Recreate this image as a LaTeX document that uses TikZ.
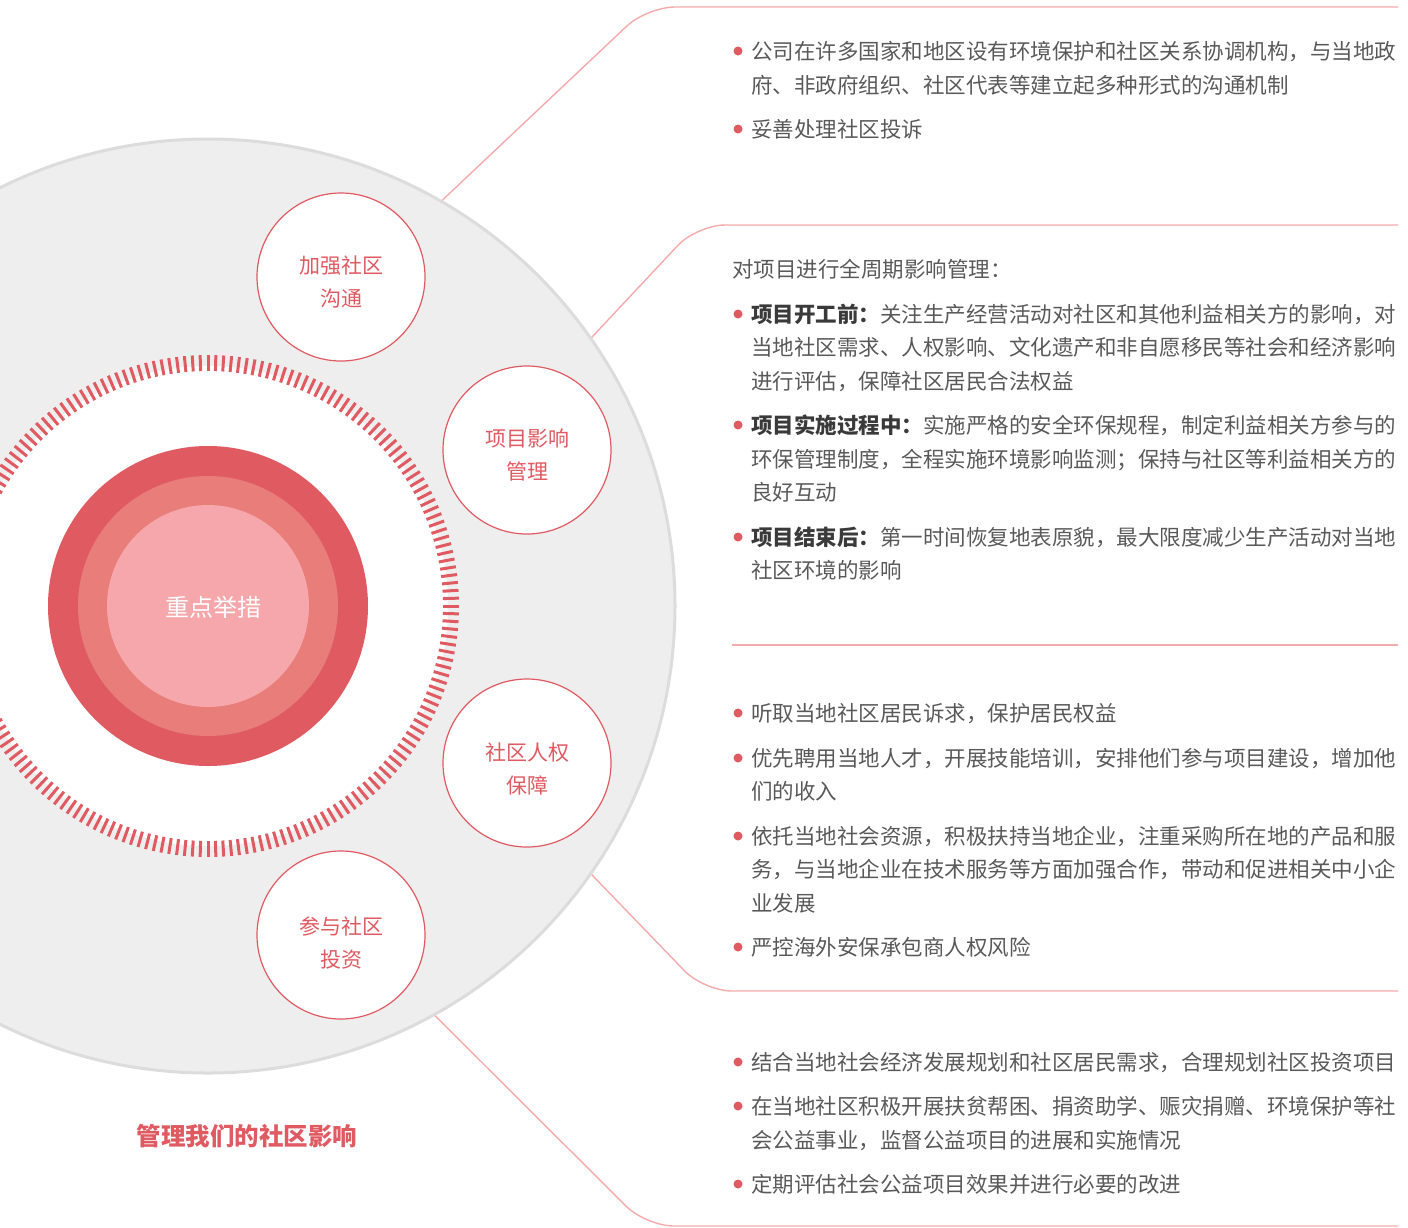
\documentclass[tikz,border=0pt]{standalone}
\usepackage{fontspec}
\setmainfont{Noto Sans CJK SC}
\definecolor{redA}{HTML}{E05A62}
\definecolor{redB}{HTML}{E87D7A}
\definecolor{redC}{HTML}{F5A7AB}
\definecolor{lineP}{HTML}{F5ABAB}
\definecolor{greyF}{HTML}{EEEEEE}
\definecolor{greyB}{HTML}{DCDCDC}
\definecolor{txtG}{HTML}{595959}
\definecolor{txtD}{HTML}{3A3A3A}
\newcommand{\hd}[1]{{\bfseries\color{txtD}#1}}
\begin{document}
\begin{tikzpicture}[x=1pt,y=-1pt,
  tline/.style={anchor=base west, inner sep=0pt, text=txtG, font=\fontsize{21.5}{21.5}\selectfont},
  dot/.style={circle, fill=redA, inner sep=0pt, minimum size=9pt},
  conn/.style={draw=lineP, line width=1.4pt, rounded corners=28pt},
  sat/.style={circle, draw=redA, line width=1.2pt, fill=white, minimum size=168pt, inner sep=0pt},
  sattxt/.style={align=center, text=redA, inner sep=0pt, font=\fontsize{21}{33}\selectfont},
  tick/.style={draw=redA, line width=3pt}]
\useasboundingbox (0,0) rectangle (1408,1227);
\clip (0,0) rectangle (1408,1227);

% background disc
\node[circle, fill=greyF, draw=greyB, line width=3pt, minimum size=934pt, inner sep=0pt] (bg) at (208,606) {};
\coordinate (ctr) at (208,606);
\fill[white] (ctr) circle[radius=240];
\foreach \a in {0,1.8,...,358.3}
  \draw[tick] (ctr) ++(\a:235) -- ++(\a:16);

% core
\node[circle, fill=redA, minimum size=320pt, inner sep=0pt] (core) at (ctr) {};
\node[circle, fill=redB, minimum size=260pt, inner sep=0pt] (mid) at (ctr) {};
\node[circle, fill=redC, minimum size=202pt, inner sep=0pt] (inner) at (ctr) {};
\node[text=white, font=\fontsize{24}{24}\selectfont] (coretxt) at (213,607) {重点举措};

% connectors
\coordinate (k1) at (647,7);    \coordinate (e1) at (1398,7);
\coordinate (k2) at (697,225);  \coordinate (e2) at (1398,225);
\coordinate (s3) at (732,645);  \coordinate (e3) at (1398,645);
\coordinate (k4) at (704,991);  \coordinate (e4) at (1398,991);
\coordinate (k5) at (646,1226); \coordinate (e5) at (1398,1226);
\draw[conn] (bg.60) -- (k1) -- (e1);
\draw[conn] (bg.35) -- (k2) -- (e2);
\draw[conn] (s3) -- (e3);
\draw[conn] (bg.-35) -- (k4) -- (e4);
\draw[conn] (bg.-61) -- (k5) -- (e5);

% satellites
\node[sat] (s1) at (341,277) {};
\node[sat] (s2) at (527,450) {};
\node[sat] (s4) at (527,763) {};
\node[sat] (s5) at (341,935) {};
\node[sattxt] (s1t) at (341,282) {加强社区\\沟通};
\node[sattxt] (s2t) at (527,455) {项目影响\\管理};
\node[sattxt] (s4t) at (527,769) {社区人权\\保障};
\node[sattxt] (s5t) at (341,943) {参与社区\\投资};

% title
\node[text=redA, font=\fontsize{24.5}{24.5}\selectfont\bfseries] (title) at (247,1136) {管理我们的社区影响};

% box 1
\node[dot] (d1a) at (738,51) {};
\node[tline] (t1a) at (751,59) {公司在许多国家和地区设有环境保护和社区关系协调机构，与当地政};
\node[tline] (t1b) at (751,93) {府、非政府组织、社区代表等建立起多种形式的沟通机制};
\node[dot] (d1c) at (738,129) {};
\node[tline] (t1c) at (751,137) {妥善处理社区投诉};

% box 2
\node[tline] (t2h) at (732,277) {对项目进行全周期影响管理：};
\node[dot] (d2a) at (738,314) {};
\node[tline] (t2a) at (751,322) {\hd{项目开工前：}关注生产经营活动对社区和其他利益相关方的影响，对};
\node[tline] (t2b) at (751,355) {当地社区需求、人权影响、文化遗产和非自愿移民等社会和经济影响};
\node[tline] (t2c) at (751,389) {进行评估，保障社区居民合法权益};
\node[dot] (d2d) at (738,425) {};
\node[tline] (t2d) at (751,433) {\hd{项目实施过程中：}实施严格的安全环保规程，制定利益相关方参与的};
\node[tline] (t2e) at (751,467) {环保管理制度，全程实施环境影响监测；保持与社区等利益相关方的};
\node[tline] (t2f) at (751,500) {良好互动};
\node[dot] (d2g) at (738,537) {};
\node[tline] (t2g) at (751,545) {\hd{项目结束后：}第一时间恢复地表原貌，最大限度减少生产活动对当地};
\node[tline] (t2i) at (751,578) {社区环境的影响};

% box 3
\node[dot] (d3a) at (738,713) {};
\node[tline] (t3a) at (751,721) {听取当地社区居民诉求，保护居民权益};
\node[dot] (d3b) at (738,758) {};
\node[tline] (t3b) at (751,766) {优先聘用当地人才，开展技能培训，安排他们参与项目建设，增加他};
\node[tline] (t3c) at (751,799) {们的收入};
\node[dot] (d3d) at (738,836) {};
\node[tline] (t3d) at (751,844) {依托当地社会资源，积极扶持当地企业，注重采购所在地的产品和服};
\node[tline] (t3e) at (751,877) {务，与当地企业在技术服务等方面加强合作，带动和促进相关中小企};
\node[tline] (t3f) at (751,911) {业发展};
\node[dot] (d3g) at (738,947) {};
\node[tline] (t3g) at (751,955) {严控海外安保承包商人权风险};

% box 4
\node[dot] (d4a) at (738,1062) {};
\node[tline] (t4a) at (751,1070) {结合当地社会经济发展规划和社区居民需求，合理规划社区投资项目};
\node[dot] (d4b) at (738,1106) {};
\node[tline] (t4b) at (751,1114) {在当地社区积极开展扶贫帮困、捐资助学、赈灾捐赠、环境保护等社};
\node[tline] (t4c) at (751,1148) {会公益事业，监督公益项目的进展和实施情况};
\node[dot] (d4d) at (738,1184) {};
\node[tline] (t4d) at (751,1192) {定期评估社会公益项目效果并进行必要的改进};
\end{tikzpicture}
\end{document}
